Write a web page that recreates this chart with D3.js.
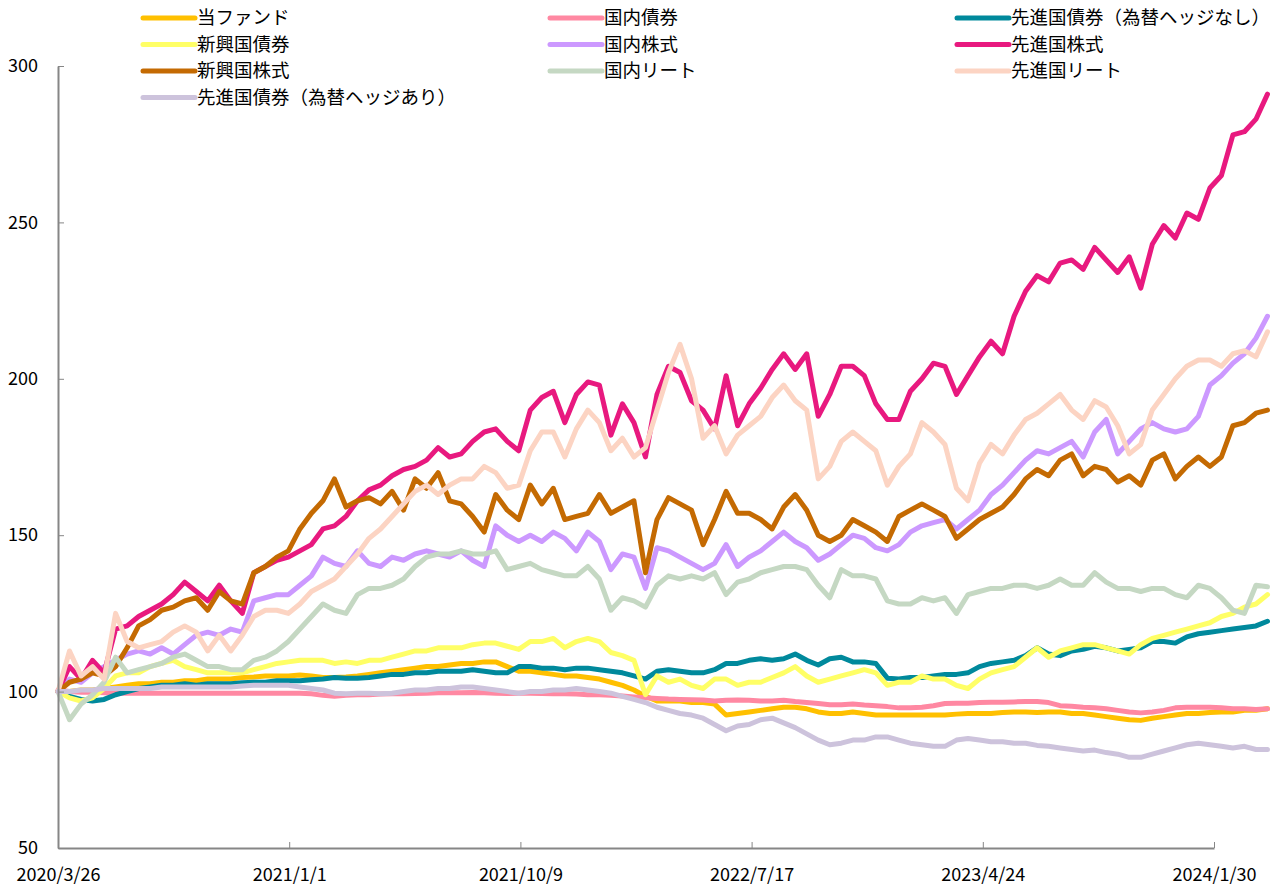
<!DOCTYPE html>
<html>
<head>
<meta charset="utf-8">
<script src="https://cdn.jsdelivr.net/npm/d3@7"></script>
<style>
  body { margin: 0; background: #fff; }
  .tick text { font-family: "Noto Sans CJK JP", sans-serif; fill: #000; }
  .legend text { font-family: "Noto Sans CJK JP", sans-serif; font-size: 18.5px; fill: #000; }
</style>
</head>
<body>
<svg id="vis" width="1272" height="885"></svg>
<script>
// chart values, one point every 14 days starting 2020/3/26
const START = new Date(2020, 2, 26);
const STEP_DAYS = 14;
const TICK_DAYS = 281;

const fund = [100,100,100.5,100.5,101,101.5,102,102.5,102.5,103,
  103,103.5,103.5,104,104,104,104.5,104.7,105,105,
  105,105.3,105,104.5,104.5,104.7,105,105.5,106,106.5,
  107,107.5,108,108,108.5,109,109,109.5,109.5,108,
  106.5,106.5,106,105.5,105,105,104.5,104,103,102,
  100.5,98.5,97,97,97,96.5,96.5,96,92.5,93,
  93.5,94,94.5,95,95,94.5,93.5,93,93,93.5,
  93,92.5,92.5,92.5,92.5,92.5,92.5,92.5,92.8,93,
  93,93,93.3,93.5,93.5,93.3,93.5,93.5,93,93,
  92.5,92,91.5,91,90.8,91.5,92,92.5,93,93,
  93.3,93.5,93.5,94,94,94.5];

const jpBond = [100.5,100,99.8,99.8,99.6,99.5,99.5,99.5,99.5,99.5,
  99.5,99.5,99.5,99.5,99.5,99.5,99.5,99.5,99.5,99.5,
  99.5,99.5,99.3,98.8,98.5,98.8,99,99,99.2,99.3,
  99.3,99.4,99.5,99.6,99.6,99.6,99.7,99.6,99.5,99.4,
  99.5,99.5,99.4,99.3,99.3,99.2,99,99,98.8,98.6,
  98.3,98,97.8,97.6,97.5,97.4,97.3,97,97.2,97.3,
  97.2,97,97,97.2,96.8,96.5,96.2,95.8,95.8,96,
  95.7,95.5,95.2,94.8,94.8,95,95.5,96.2,96.3,96.3,
  96.5,96.6,96.6,96.7,96.8,96.8,96.5,95.5,95.3,95,
  94.8,94.5,94,93.5,93.2,93.5,94,94.8,95,95,
  95,94.8,94.5,94.5,94.3,94.5];

const dmBondUnhedged = [100,98.5,97.5,97,97.5,99,100,101,101.5,102,
  102,102.5,102,102.5,102.5,102.5,102.8,103,103,103.5,
  103.5,103.5,103.8,104,104.5,104.3,104.3,104.5,105,105.5,
  105.5,106,106,106.5,106.5,106.5,107,106.5,106,106,
  108,108,107.5,107.5,107,107.5,107.5,107,106.5,106,
  105,104,106.5,107,106.5,106,106,107,109,109,
  110,110.5,110,110.5,112,110,108.5,110.5,111,109.5,
  109.5,109,104.3,104,104.5,104.5,105,105.5,105.5,106,
  108,109,109.5,110,111.5,114,112,111.5,113,113.5,
  114.5,114,113,113.5,114,116,116,115.5,117.5,118.5,
  119,119.5,120,120.5,121,122.5];

const emBond = [100,98,97,98,101,105,106,106,108,109,
  110,108,107,106,106,106,106,107,108,109,
  109.5,110,110,110,109,109.5,109,110,110,111,
  112,113,113,114,114,114,115,115.5,115.5,114.5,
  113.5,116,116,117,114,116,117,116,112.5,111.5,
  110,99,105,103,104,102,101,104,104,102,
  103,103,104.5,106,108,105,103,104,105,106,
  107,106,102,103,103,105,104,104,102,101,
  104,106,107,108,111,114,111,113,114,115,
  115,114,113,112,115,117,118,119,120,121,
  122,124,125,127,128,131];

const jpEquity = [100,104,103,106,108,110,112,113,112,114,
  112,115,118,119,118,120,119,129,130,131,
  131,134,137,143,141,140,145,141,140,143,
  142,144,145,144,143,145,142,140,153,150,
  148,150,148,151,149,145,151,148,139,144,
  143,133,146,145,143,141,139,141,147,140,
  143,145,148,151,148,146,142,144,147,150,
  149,146,145,147,151,153,154,155,152,155,
  158,163,166,170,174,177,176,178,180,175,
  183,187,176,180,184,186,184,183,184,188,
  198,201,205,208,213,220];

const dmEquity = [100,108,104,110,106,120,121,124,126,128,
  131,135,132,129,134,129,125,138,140,142,
  143,145,147,152,153,156,161,164.5,166,169,
  171,172,174,178,175,176,180,183,184,180,
  177,190,194,196,186,195,199,198,182,192,
  186,175,195,204,202,193,190,184,201,185,
  192,197,203,208,203,208,188,195,204,204,
  201,192,187,187,196,200,205,204,195,201,
  207,212,208,220,228,233,231,237,238,235,
  242,238,234,239,229,243,249,245,253,251,
  261,265,278,279,283,291];

const emEquity = [100,103,104,106,105,108,114,121,123,126,
  127,129,130,126,132,129,128,138,140,143,
  145,152,157,161,168,159,161,162,160,164,
  158,168,165,170,161,160,156,151,163,158,
  155,166,160,165,155,156,157,163,157,159,
  161,138,155,162,160,158,147,155,164,157,
  157,155,152,159,163,158,150,148,150,155,
  153,151,148,156,158,160,158,156,149,152,
  155,157,159,163,168,171,169,174,176,169,
  172,171,167,169,166,174,176,168,172,175,
  172,175,185,186,189,190];

const jpReit = [100,91,96,99,103,111,106,107,108,109,
  111,112,110,108,108,107,107,110,111,113,
  116,120,124,128,126,125,131,133,133,134,
  136,140,143,144,144,145,144,144,145,139,
  140,141,139,138,137,137,140,136,126,130,
  129,127,134,137,136,137,136,138,131,135,
  136,138,139,140,140,139,134,130,139,137,
  137,136,129,128,128,130,129,130,125,131,
  132,133,133,134,134,133,134,136,134,134,
  138,135,133,133,132,133,133,131,130,134,
  133,130,126,125,134,133.5];

const dmReit = [100,113,105,108,104,125,116,114,115,116,
  119,121,119,113,118,113,118,124,126,126,
  125,128,132,134,136,140,144,149,152,156,
  160,164,166,163,166,168,168,172,170,165,
  166,177,183,183,175,184,190,186,177,181,
  175,178,190,202,211,200,181,185,176,182,
  185,188,194,198,193,190,168,172,180,183,
  180,177,166,172,176,186,183,179,165,161,
  173,179,176,182,187,189,192,195,190,187,
  193,191,185,176,179,190,195,200,204,206,
  206,204,208,209,207,215];

const dmBondHedged = [100,100,100.5,100.5,101,101,101,101,101,101.5,
  101.5,101.5,101.5,101.5,101.5,101.5,101.8,102,102,102,
  102,101.5,101,100.5,99.5,99.3,99.5,99.5,99.3,99.5,
  100,100.5,100.5,101,101,101.5,101.5,101,100.5,100,
  99.5,100,100,100.5,100.5,101,100.5,100,99.5,98.5,
  97.5,96.5,95,94,93,92.5,91.5,89.5,87.5,89,
  89.5,91,91.5,90,88.5,86.5,84.5,83,83.5,84.5,
  84.5,85.5,85.5,84.5,83.5,83,82.5,82.5,84.5,85,
  84.5,84,84,83.5,83.5,82.8,82.5,82,81.5,81,
  81.3,80.5,80,79,79,80,81,82,83,83.5,
  83,82.5,82,82.5,81.5,81.5];

const seriesNames = ["当ファンド", "国内債券", "先進国債券（為替ヘッジなし）",
  "新興国債券", "国内株式", "先進国株式",
  "新興国株式", "国内リート", "先進国リート",
  "先進国債券（為替ヘッジあり）"];
const seriesValues = [fund, jpBond, dmBondUnhedged, emBond, jpEquity, dmEquity,
  emEquity, jpReit, dmReit, dmBondHedged];
const seriesColors = ["#ffc000", "#ff88a2", "#00899c", "#ffff66", "#cc99ff", "#e8197f",
  "#c46a02", "#c5d8c3", "#fcd4c3", "#cdc3dc"];
const yTicks = [50, 100, 150, 200, 250, 300];

const MARGINS = {top: 66, bottom: 848, left: 58};

const dates = fund.map((v, i) => d3.timeDay.offset(START, i * STEP_DAYS));
const xTicks = d3.range(6).map(k => d3.timeDay.offset(START, k * TICK_DAYS));

const svg = d3.select("#vis");

const x = d3.scaleTime()
  .domain([START, xTicks[5]])
  .range([MARGINS.left, 1214]);
const y = d3.scaleLinear()
  .domain([50, 300])
  .range([MARGINS.bottom, MARGINS.top]);

// series lines, first series at the bottom
const line = d3.line()
  .x((d, i) => x(dates[i]))
  .y(d => y(d));

svg.append("g").selectAll("path")
  .data(seriesValues)
  .enter()
  .append("path")
  .attr("d", d => line(d))
  .attr("fill", "none")
  .attr("stroke", (d, i) => seriesColors[i])
  .attr("stroke-width", 5)
  .attr("stroke-linejoin", "round")
  .attr("stroke-linecap", "round");

// axes
const yAxis = d3.axisLeft(y)
  .tickValues(yTicks)
  .tickSize(-6)
  .tickSizeOuter(0)
  .tickPadding(20);
const xAxis = d3.axisBottom(x)
  .tickValues(xTicks)
  .tickFormat(d3.timeFormat("%Y/%-m/%-d"))
  .tickSize(-6)
  .tickSizeOuter(0)
  .tickPadding(20);

const gy = svg.append("g")
  .attr("transform", `translate(${MARGINS.left},0)`)
  .call(yAxis);
const gx = svg.append("g")
  .attr("transform", `translate(0,${MARGINS.bottom})`)
  .call(xAxis);

[gx, gy].forEach(g => {
  g.select(".domain").attr("stroke", "#868686").attr("stroke-width", 2);
  g.selectAll(".tick line").attr("stroke", "#868686").attr("stroke-width", 1);
  g.selectAll(".tick text").attr("font-size", 18);
});

// legend, three columns
const legendCols = [143, 550, 957];
const legend = svg.append("g").attr("class", "legend");
seriesNames.forEach((name, i) => {
  const lx = legendCols[i % 3];
  const ly = 18 + Math.floor(i / 3) * 26.5;
  legend.append("line")
    .attr("x1", lx).attr("x2", lx + 52)
    .attr("y1", ly).attr("y2", ly)
    .attr("stroke", seriesColors[i])
    .attr("stroke-width", 5)
    .attr("stroke-linecap", "round");
  legend.append("text")
    .attr("x", lx + 54)
    .attr("y", ly)
    .attr("dy", "0.35em")
    .text(name);
});
</script>
</body>
</html>
